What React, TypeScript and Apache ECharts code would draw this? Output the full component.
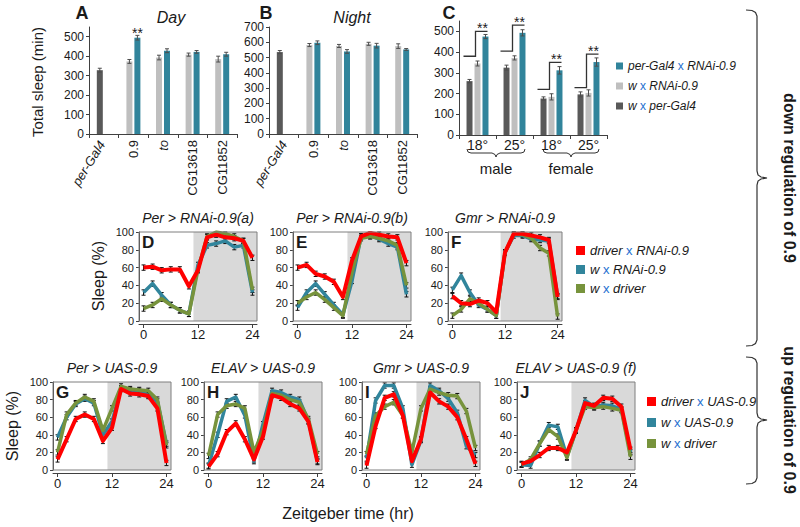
import React, { useEffect, useRef } from 'react';
import * as echarts from 'echarts';

const FONT = '"Liberation Sans", Arial, Helvetica, sans-serif';
const INK = '#1a1a1a';
const AXIS = '#404040';
const ERR_INK = '#4d4d4d';
const DARK = '#595959';
const LIGHT = '#bfbfbf';
const TEAL = '#31849b';
const RED = '#ff0000';
const LINE_TEAL = '#31859c';
const GREEN = '#77933c';
const XBLUE = '#1e6fd0';
const SHADE = '#d9d9d9';

// ---------- Panels A & B : total sleep (min) ----------
const GENOTYPES = ['per-Gal4', '0.9', 'to', 'CG13618', 'CG11852'];
const DAY_CTRL = [328, 373, 393, 408, 385];
const DAY_CTRL_ERR = [10, 10, 12, 8, 15];
const DAY_KD = [null, 495, 428, 422, 410];
const DAY_KD_ERR = [null, 12, 10, 7, 10];
const NIGHT_CTRL = [536, 582, 576, 590, 575];
const NIGHT_CTRL_ERR = [10, 10, 10, 10, 15];
const NIGHT_KD = [null, 597, 540, 578, 553];
const NIGHT_KD_ERR = [null, 12, 12, 15, 6];
const TICKS_550 = [0, 100, 200, 300, 400, 500];

// ---------- Panel C ----------
const C_GROUPS = ['male-18', 'male-25', 'female-18', 'female-25'];
const C_TEMPS = ['18', '25', '18', '25'];
const C_PERGAL4 = [260, 325, 176, 196];
const C_PERGAL4_ERR = [8, 12, 8, 12];
const C_RNAI = [345, 372, 184, 203];
const C_RNAI_ERR = [12, 10, 15, 15];
const C_KD = [475, 493, 312, 352];
const C_KD_ERR = [10, 15, 18, 20];
const C_SIG_LOW = [380, 405, 220, 229];
const C_SIG_HIGH = [500, 530, 350, 390];

// ---------- Panels D-J : sleep (%) across Zeitgeber time ----------
const ZT = [0, 2, 4, 6, 8, 10, 12, 14, 16, 18, 20, 22, 24];
const ZT_TICKS = [0, 12, 24];
const LIGHTS_OFF = 11;
const LINE_SEM = 3;

const D_RED = [60, 61, 57, 58, 58, 39, 57, 94, 97, 94, 93, 90, 71];
const D_TEAL = [32, 42, 29, 18, 12, 8, 63, 85, 87, 90, 83, 85, 32];
const D_GREEN = [14, 18, 25, 18, 12, 8, 58, 95, 100, 98, 95, 90, 35];

const E_RED = [60, 63, 53, 50, 44, 27, 68, 95, 99, 97, 95, 94, 65];
const E_TEAL = [15, 32, 42, 30, 18, 7, 45, 95, 96, 92, 87, 83, 30];
const E_GREEN = [20, 27, 32, 24, 15, 6, 55, 93, 95, 93, 90, 85, 40];

const F_RED = [28, 20, 19, 23, 20, 10, 77, 98, 98, 96, 94, 91, 27];
const F_TEAL = [35, 51, 32, 18, 13, 6, 77, 96, 96, 92, 91, 90, 28];
const F_GREEN = [6, 13, 25, 20, 13, 6, 77, 98, 97, 93, 82, 76, 5];

const G_RED = [12, 35, 58, 63, 58, 33, 48, 92, 87, 86, 84, 70, 8];
const G_TEAL = [37, 60, 75, 81, 76, 40, 55, 93, 91, 90, 85, 78, 30];
const G_GREEN = [20, 63, 76, 83, 78, 45, 70, 95, 92, 91, 90, 80, 28];

const H_RED = [4, 18, 43, 53, 35, 12, 38, 85, 82, 75, 70, 55, 9];
const H_TEAL = [5, 40, 78, 83, 62, 10, 52, 90, 88, 83, 80, 56, 10];
const H_GREEN = [16, 63, 73, 75, 70, 20, 45, 87, 85, 80, 77, 58, 18];

const I_RED = [5, 50, 82, 86, 62, 10, 35, 88, 78, 72, 60, 35, 7];
const I_TEAL = [13, 79, 96, 96, 70, 6, 34, 96, 90, 81, 65, 27, 17];
const I_GREEN = [18, 62, 72, 77, 62, 20, 70, 92, 88, 85, 84, 67, 25];

const J_RED = [7, 10, 17, 25, 25, 20, 45, 76, 73, 82, 81, 72, 23];
const J_TEAL = [6, 5, 30, 51, 49, 15, 45, 79, 72, 74, 73, 69, 20];
const J_GREEN = [6, 12, 30, 46, 38, 14, 45, 72, 71, 72, 70, 68, 15];

const RNAI_NAMES = ['driver x RNAi-0.9', 'w x RNAi-0.9 ', 'w x driver'];
const UAS_NAMES = ['driver x UAS-0.9', 'w x UAS-0.9', 'w x driver'];
const C_NAMES = ['per-Gal4 x RNAi-0.9', 'w x RNAi-0.9', 'w x per-Gal4'];

// layout of the line panels: [left, top, width, height]
const LINE_PANELS = [
  { letter: 'D', title: 'Per > RNAi-0.9(a)', red: D_RED, teal: D_TEAL, green: D_GREEN, names: RNAI_NAMES, rect: [139, 232, 118, 89] },
  { letter: 'E', title: 'Per > RNAi-0.9(b)', red: E_RED, teal: E_TEAL, green: E_GREEN, names: RNAI_NAMES, rect: [293, 232, 118, 89] },
  { letter: 'F', title: 'Gmr > RNAi-0.9', red: F_RED, teal: F_TEAL, green: F_GREEN, names: RNAI_NAMES, rect: [448, 232, 114, 89] },
  { letter: 'G', title: 'Per > UAS-0.9', red: G_RED, teal: G_TEAL, green: G_GREEN, names: UAS_NAMES, rect: [53, 382, 118, 88] },
  { letter: 'H', title: 'ELAV > UAS-0.9', red: H_RED, teal: H_TEAL, green: H_GREEN, names: UAS_NAMES, rect: [204, 382, 118, 88] },
  { letter: 'I', title: 'Gmr > UAS-0.9', red: I_RED, teal: I_TEAL, green: I_GREEN, names: UAS_NAMES, rect: [362, 382, 118, 88] },
  { letter: 'J', title: 'ELAV > UAS-0.9 (f)', red: J_RED, teal: J_TEAL, green: J_GREEN, names: UAS_NAMES, rect: [517, 382, 118, 88] },
];

function txt(text: string, x: number, y: number, o: any = {}) {
  return {
    type: 'text', x, y, rotation: o.rotation || 0, silent: true,
    style: {
      text, fill: o.fill || INK, fontSize: o.size || 14, fontFamily: FONT,
      fontWeight: o.weight || 'normal', fontStyle: o.style || 'normal',
      align: o.align || 'center', verticalAlign: o.valign || 'middle',
    },
  };
}

function poly(points: number[][], w = 1.2) {
  return { type: 'polyline', silent: true, shape: { points }, style: { stroke: '#333', fill: null, lineWidth: w } };
}

function barErrSeries(axis: number, values: (number | null)[], errs: (number | null)[], shift: number) {
  const data: any[] = [];
  values.forEach((v, i) => { if (v != null) data.push([i, v, errs[i]]); });
  return {
    type: 'custom', xAxisIndex: axis, yAxisIndex: axis, z: 4, silent: true,
    encode: { x: 0, y: 1 }, data,
    renderItem: (_p: any, api: any) => {
      const cat = api.value(0), v = api.value(1), e = api.value(2);
      const top = api.coord([cat, v + e]);
      const bot = api.coord([cat, v - e]);
      const x = top[0] + shift;
      const st = { stroke: ERR_INK, lineWidth: 1 };
      return {
        type: 'group', children: [
          { type: 'line', shape: { x1: x, y1: top[1], x2: x, y2: bot[1] }, style: st },
          { type: 'line', shape: { x1: x - 2, y1: top[1], x2: x + 2, y2: top[1] }, style: st },
          { type: 'line', shape: { x1: x - 2, y1: bot[1], x2: x + 2, y2: bot[1] }, style: st },
        ],
      };
    },
  };
}

function lineErrSeries(axis: number, all: number[][]) {
  const data: any[] = [];
  all.forEach((vals) => vals.forEach((v, i) => data.push([ZT[i], v])));
  return {
    type: 'custom', xAxisIndex: axis, yAxisIndex: axis, z: 2, silent: true,
    encode: { x: 0, y: 1 }, data,
    renderItem: (_p: any, api: any) => {
      const x = api.value(0), v = api.value(1);
      const hi = api.coord([x, Math.min(100, v + LINE_SEM)]);
      const lo = api.coord([x, Math.max(0, v - LINE_SEM)]);
      const st = { stroke: '#111', lineWidth: 1 };
      return {
        type: 'group', children: [
          { type: 'line', shape: { x1: hi[0], y1: hi[1], x2: lo[0], y2: lo[1] }, style: st },
          { type: 'line', shape: { x1: hi[0] - 2, y1: hi[1], x2: hi[0] + 2, y2: hi[1] }, style: st },
          { type: 'line', shape: { x1: lo[0] - 2, y1: lo[1], x2: lo[0] + 2, y2: lo[1] }, style: st },
        ],
      };
    },
  };
}

const legendFormatter = (name: string) => {
  const [a, b] = name.trim().split(' x ');
  return `{i|${a}} {x|x} {i|${b}}`;
};
const legendText = (size: number) => ({
  fontSize: size, color: INK, fontFamily: FONT,
  rich: {
    i: { fontStyle: 'italic', fontSize: size, color: INK, fontFamily: FONT },
    x: { fontSize: size, color: XBLUE, fontFamily: FONT },
  },
});

function buildOption() {
  const grid: any[] = [];
  const xAxis: any[] = [];
  const yAxis: any[] = [];
  const series: any[] = [];
  const lineStyleAxis = { show: true, onZero: false, lineStyle: { color: AXIS, width: 1 } };

  // ---- A & B ----
  const barPanels = [
    { rect: [89, 27, 148, 107], max: 550, ctrl: DAY_CTRL, ctrlErr: DAY_CTRL_ERR, kd: DAY_KD, kdErr: DAY_KD_ERR, ticks: TICKS_550 },
    { rect: [269, 27, 148, 107], max: 700, ctrl: NIGHT_CTRL, ctrlErr: NIGHT_CTRL_ERR, kd: NIGHT_KD, kdErr: NIGHT_KD_ERR, ticks: null },
  ];
  barPanels.forEach((p, gi) => {
    grid.push({ left: p.rect[0], top: p.rect[1], width: p.rect[2], height: p.rect[3] });
    xAxis.push({
      type: 'category', gridIndex: gi, data: GENOTYPES,
      axisLine: lineStyleAxis, axisTick: { show: true, length: 4, lineStyle: { color: AXIS } },
      axisLabel: {
        interval: 0, rotate: 90, fontSize: 13, margin: 6, color: INK, fontFamily: FONT,
        formatter: (v: string) => (v === 'per-Gal4' ? '' : v === 'to' ? '{i|to}' : v),
        rich: { i: { fontStyle: 'italic', fontSize: 13, color: INK, fontFamily: FONT } },
      },
    });
    const yTicks = p.ticks ? { customValues: p.ticks } : {};
    yAxis.push({
      type: 'value', gridIndex: gi, min: 0, max: p.max, interval: 100,
      splitLine: { show: false }, axisLine: lineStyleAxis,
      axisTick: { show: true, length: 3, lineStyle: { color: AXIS }, ...yTicks },
      axisLabel: { fontSize: 12, margin: 5, color: INK, fontFamily: FONT, ...yTicks },
    });
    series.push({
      type: 'bar', name: gi === 0 ? 'day-control' : 'night-control', xAxisIndex: gi, yAxisIndex: gi,
      barWidth: 6, barGap: '33%', itemStyle: { color: LIGHT },
      data: p.ctrl.map((v, i) => (i === 0 ? { value: v, itemStyle: { color: DARK } } : v)),
    });
    series.push({
      type: 'bar', name: gi === 0 ? 'day-knockdown' : 'night-knockdown', xAxisIndex: gi, yAxisIndex: gi,
      barWidth: 6, barGap: '33%', itemStyle: { color: TEAL },
      data: p.kd.map((v, i) => (gi === 0 && i === 1
        ? { value: v, label: { show: true, position: 'top', distance: -2, formatter: '**', fontSize: 14, color: INK, fontFamily: FONT } }
        : v)),
    });
    series.push(barErrSeries(gi, p.ctrl, p.ctrlErr, -4));
    series.push(barErrSeries(gi, p.kd, p.kdErr, 4));
  });

  // ---- C ----
  grid.push({ left: 459, top: 21, width: 148, height: 114 });
  xAxis.push({
    type: 'category', gridIndex: 2, data: C_GROUPS,
    axisLine: lineStyleAxis, axisTick: { show: true, length: 4, lineStyle: { color: AXIS } },
    axisLabel: {
      interval: 0, fontSize: 14, margin: 3, color: INK, fontFamily: FONT,
      formatter: (_v: string, i: number) => `${C_TEMPS[i]}°`,
    },
  });
  yAxis.push({
    type: 'value', gridIndex: 2, min: 0, max: 550,
    splitLine: { show: false }, axisLine: lineStyleAxis,
    axisTick: { show: true, length: 3, lineStyle: { color: AXIS }, customValues: TICKS_550 },
    axisLabel: { fontSize: 12, margin: 5, color: INK, fontFamily: FONT, customValues: TICKS_550 },
  });
  const cSets = [
    { name: C_NAMES[2], vals: C_PERGAL4, errs: C_PERGAL4_ERR, color: DARK, shift: -8 },
    { name: C_NAMES[1], vals: C_RNAI, errs: C_RNAI_ERR, color: LIGHT, shift: 0 },
    { name: C_NAMES[0], vals: C_KD, errs: C_KD_ERR, color: TEAL, shift: 8 },
  ];
  cSets.forEach((s) => {
    series.push({ type: 'bar', name: s.name, xAxisIndex: 2, yAxisIndex: 2, barWidth: 6, barGap: '33%', itemStyle: { color: s.color }, data: s.vals });
  });
  cSets.forEach((s) => series.push(barErrSeries(2, s.vals, s.errs, s.shift)));
  series.push({
    type: 'custom', xAxisIndex: 2, yAxisIndex: 2, z: 6, silent: true,
    encode: { x: 0, y: [1, 2] },
    data: C_GROUPS.map((_g, i) => [i, C_SIG_LOW[i], C_SIG_HIGH[i]]),
    renderItem: (_p: any, api: any) => {
      const lo = api.coord([api.value(0), api.value(1)]);
      const hi = api.coord([api.value(0), api.value(2)]);
      const c = lo[0];
      return {
        type: 'group', children: [
          { type: 'polyline', shape: { points: [[c - 14, lo[1]], [c - 2, lo[1]], [c - 2, hi[1]], [c + 10, hi[1]]] }, style: { stroke: '#333', fill: null, lineWidth: 1.3 } },
          { type: 'text', style: { text: '**', x: c + 5, y: hi[1] + 4, align: 'center', verticalAlign: 'bottom', fontSize: 14, fontFamily: FONT, fill: INK } },
        ],
      };
    },
  });

  // ---- D-J ----
  LINE_PANELS.forEach((p, k) => {
    const gi = 3 + k;
    const [l, t, w, h] = p.rect;
    grid.push({ left: l, top: t, width: w, height: h, show: true, borderColor: '#7f7f7f', borderWidth: 1, backgroundColor: 'transparent', z: 5 });
    xAxis.push({
      type: 'value', gridIndex: gi, min: -1, max: 25, offset: 3,
      splitLine: { show: false }, axisLine: lineStyleAxis,
      axisTick: { show: true, length: 4, lineStyle: { color: AXIS }, customValues: ZT_TICKS },
      axisLabel: { fontSize: 13, margin: 4, color: INK, fontFamily: FONT, customValues: ZT_TICKS },
    });
    yAxis.push({
      type: 'value', gridIndex: gi, min: 0, max: 100, interval: 20,
      splitLine: { show: false }, axisLine: lineStyleAxis,
      axisTick: { show: true, length: 3, lineStyle: { color: AXIS } },
      axisLabel: { fontSize: 11, margin: 5, color: INK, fontFamily: FONT },
    });
    series.push(lineErrSeries(gi, [p.teal, p.green, p.red]));
    const lines = [
      { name: p.names[1], vals: p.teal, color: LINE_TEAL, width: 3.5 },
      { name: p.names[2], vals: p.green, color: GREEN, width: 3.5 },
      { name: p.names[0], vals: p.red, color: RED, width: 4 },
    ];
    lines.forEach((s, j) => {
      series.push({
        type: 'line', name: s.name, xAxisIndex: gi, yAxisIndex: gi, z: 3, silent: true,
        symbol: 'none', data: ZT.map((x, i) => [x, s.vals[i]]),
        lineStyle: { color: s.color, width: s.width, join: 'round' }, itemStyle: { color: s.color },
        markArea: j === 0 ? {
          silent: true, label: { show: false }, itemStyle: { color: SHADE, borderWidth: 0 },
          data: [[{ xAxis: LIGHTS_OFF }, { xAxis: 25 }]],
        } : undefined,
      });
    });
  });

  const legend = [
    {
      data: C_NAMES, left: 616, top: 60, orient: 'vertical', icon: 'rect', itemWidth: 7, itemHeight: 7, itemGap: 8,
      padding: 0, selectedMode: false, formatter: legendFormatter, textStyle: legendText(12),
    },
    {
      data: RNAI_NAMES, left: 576, top: 244, orient: 'vertical', icon: 'rect', itemWidth: 9, itemHeight: 9, itemGap: 6,
      padding: 0, selectedMode: false, formatter: legendFormatter, textStyle: legendText(13),
    },
    {
      data: UAS_NAMES, left: 647, top: 395, orient: 'vertical', icon: 'rect', itemWidth: 9, itemHeight: 9, itemGap: 8,
      padding: 0, selectedMode: false, formatter: legendFormatter, textStyle: legendText(13),
    },
  ];

  const R = Math.PI / 2;
  const elements: any[] = [
    txt('A', 82, 13, { size: 18, weight: 'bold' }),
    txt('B', 266, 13, { size: 18, weight: 'bold' }),
    txt('C', 449, 13, { size: 18, weight: 'bold' }),
    txt('Day', 171, 17, { size: 16, style: 'italic' }),
    txt('Night', 352, 17, { size: 16, style: 'italic' }),
    txt('Total sleep (min)', 37, 82, { size: 15, rotation: R }),
    txt('per-Gal4', 102, 142, { size: 13, style: 'italic', align: 'right', rotation: (58 * Math.PI) / 180 }),
    txt('per-Gal4', 284, 142, { size: 13, style: 'italic', align: 'right', rotation: (58 * Math.PI) / 180 }),
    txt('male', 496, 168, { size: 15 }),
    txt('female', 571, 168, { size: 15 }),
    poly([[467, 149], [468, 152], [471, 153], [492, 153], [495, 154.5], [496, 157], [497, 154.5], [500, 153], [521, 153], [524, 152], [525, 149]], 1),
    poly([[543, 149], [544, 152], [547, 153], [567, 153], [570, 154.5], [571, 157], [572, 154.5], [575, 153], [595, 153], [598, 152], [599, 149]], 1),
    txt('Sleep (%)', 98, 276, { size: 16, rotation: R }),
    txt('Sleep (%)', 12, 426, { size: 16, rotation: R }),
    txt('Zeitgeber time (hr)', 348, 513, { size: 16 }),
    poly([[746, 10], [752, 10.5], [755.5, 12.5], [757, 16], [757, 171], [758, 175], [761, 177], [767, 178], [761, 179], [758, 181], [757, 185], [757, 340], [755.5, 343.5], [752, 345.5], [746, 346]]),
    poly([[746, 357], [752, 357.5], [755.5, 359.5], [757, 363], [757, 413], [758, 417], [761, 419], [767, 420], [761, 421], [758, 423], [757, 427], [757, 478], [755.5, 481.5], [752, 483.5], [746, 484]]),
    txt('down regulation of 0.9', 789, 178, { size: 16, weight: 'bold', rotation: -R }),
    txt('up regulation of 0.9', 789, 420, { size: 16, weight: 'bold', rotation: -R }),
  ];
  LINE_PANELS.forEach((p) => {
    const [l, t, w] = p.rect;
    elements.push(txt(p.title, l + w / 2, t - 14, { size: 14, style: 'italic' }));
    elements.push(txt(p.letter, l + 3, t + 10, { size: 17, weight: 'bold', align: 'left' }));
  });

  return {
    animation: false,
    backgroundColor: '#ffffff',
    textStyle: { fontFamily: FONT, color: INK },
    grid, xAxis, yAxis, series, legend,
    graphic: { elements },
  };
}

export default function App() {
  const ref = useRef<HTMLDivElement>(null);
  useEffect(() => {
    const chart = echarts.init(ref.current as HTMLDivElement, null, { renderer: 'svg' });
    chart.setOption(buildOption() as any);
    return () => chart.dispose();
  }, []);
  return <div ref={ref} style={{ position: 'absolute', left: 0, top: 0, width: 800, height: 527, background: '#fff' }} />;
}
